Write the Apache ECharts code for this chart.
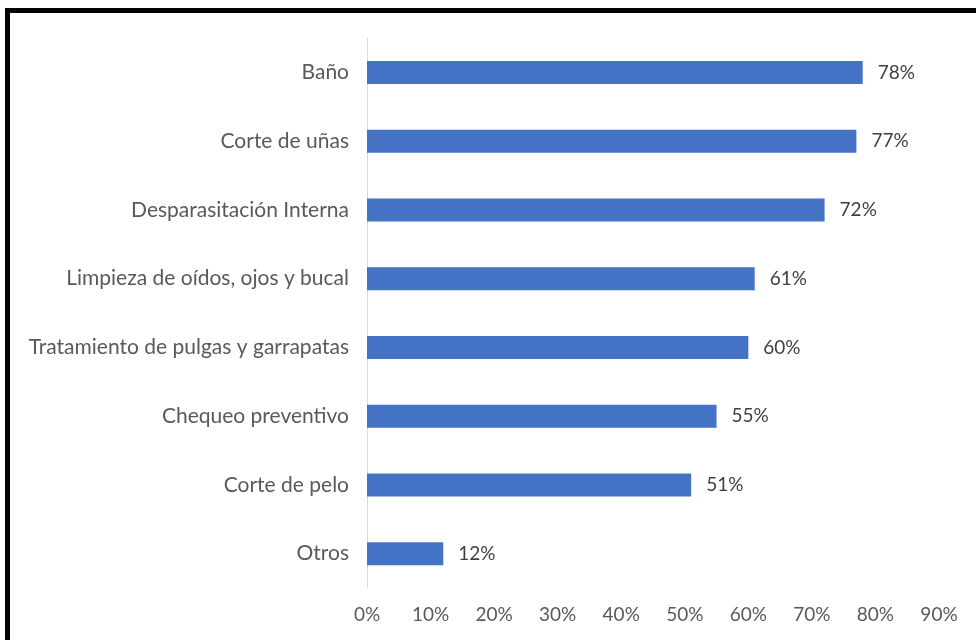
<!DOCTYPE html>
<html>
<head>
<meta charset="utf-8">
<script src="https://cdn.jsdelivr.net/npm/echarts@6/dist/echarts.min.js"></script>
<style>
  html, body { margin: 0; padding: 0; background: #fff; }
  #chart { width: 976px; height: 640px; }
</style>
</head>
<body>
<div id="chart"></div>
<script>
// Servicios más utilizados (porcentaje de respuestas)
const categories = [
  'Baño',
  'Corte de uñas',
  'Desparasitación Interna',
  'Limpieza de oídos, ojos y bucal',
  'Tratamiento de pulgas y garrapatas',
  'Chequeo preventivo',
  'Corte de pelo',
  'Otros'
];
const values = [78, 77, 72, 61, 60, 55, 51, 12];
const axisMax = 90;
const axisStep = 10;

const textFont = 'Lato, "Open Sans", sans-serif';

const chart = echarts.init(document.getElementById('chart'));
chart.setOption({
  backgroundColor: '#ffffff',
  animation: false,
  grid: { left: 367, right: 37, top: 38, bottom: 52, containLabel: false },
  xAxis: {
    type: 'value',
    min: 0,
    max: axisMax,
    interval: axisStep,
    axisLine: { show: false },
    axisTick: { show: false },
    splitLine: { show: false },
    axisLabel: {
      formatter: '{value}%',
      color: '#595959',
      fontFamily: textFont,
      fontSize: 19,
      margin: 17
    }
  },
  yAxis: {
    type: 'category',
    data: categories,
    inverse: true,
    axisLine: { show: true, lineStyle: { color: '#d9d9d9', width: 1 } },
    axisTick: { show: false },
    axisLabel: {
      color: '#595959',
      fontFamily: textFont,
      fontSize: 21,
      margin: 18
    }
  },
  series: [{
    type: 'bar',
    data: values,
    barWidth: 23,
    itemStyle: { color: '#4472C4' },
    label: {
      show: true,
      position: 'right',
      distance: 15,
      formatter: '{c}%',
      color: '#404040',
      fontFamily: textFont,
      fontSize: 19
    }
  }],
  graphic: [
    { type: 'rect', shape: { x: 5, y: 8, width: 971, height: 5 }, style: { fill: '#000' } },
    { type: 'rect', shape: { x: 5, y: 8, width: 5, height: 632 }, style: { fill: '#000' } }
  ]
});
</script>
</body>
</html>
